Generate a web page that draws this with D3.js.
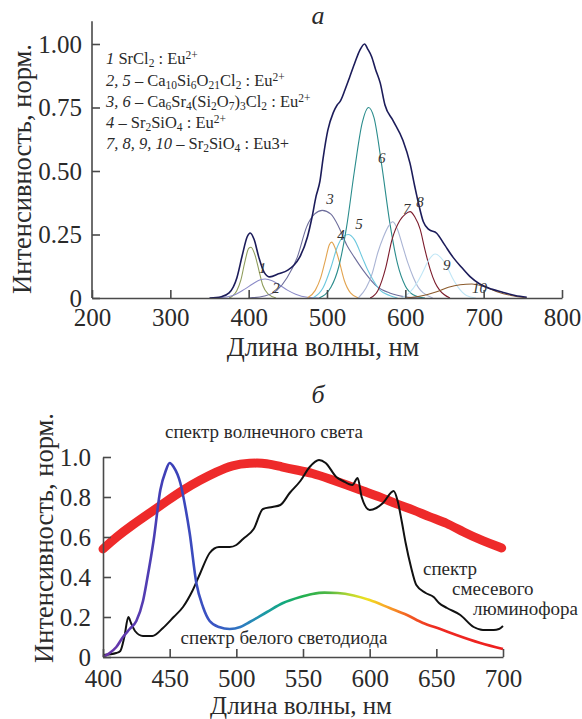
<!DOCTYPE html>
<html>
<head>
<meta charset="utf-8">
<script src="https://cdn.jsdelivr.net/npm/d3@7"></script>
<style>
  body { margin: 0; background: #fff; }
  svg { display: block; font-family: 'Liberation Serif', 'DejaVu Serif', serif; }
</style>
</head>
<body>
<div id="chart"></div>
<script>
// ---------- panel a : decomposition, [wavelength nm, intensity] ----------
const envelopeA = [[350,0],[365,0.005],[375,0.02],[385,0.08],[392,0.17],[398,0.24],[402,0.256],[407,0.23],[413,0.16],[420,0.1],[427,0.083],[438,0.095],[450,0.11],[458,0.13],[465,0.16],[475,0.24],[481,0.32],[486,0.4],[491,0.46],[495,0.55],[501,0.66],[508,0.73],[513,0.76],[517,0.775],[523,0.82],[529,0.87],[536,0.93],[542,0.976],[548,1.0],[552,0.98],[557,0.95],[562,0.9],[568,0.846],[574,0.76],[584,0.7],[597,0.62],[606,0.53],[612,0.44],[617,0.37],[623,0.3],[630,0.27],[640,0.255],[650,0.21],[661,0.16],[672,0.12],[683,0.083],[695,0.055],[710,0.035],[725,0.022],[740,0.01],[755,0.003]]
const comp1 = [[375,0],[385,0.03],[390,0.07],[395,0.14],[400,0.195],[403,0.2],[408,0.17],[413,0.11],[418,0.05],[425,0.015],[435,0]]
const comp2 = [[360,0],[380,0.01],[395,0.035],[405,0.055],[415,0.072],[421,0.075],[430,0.068],[440,0.05],[450,0.03],[460,0.015],[475,0.003],[490,0]]
const comp3 = [[400,0],[420,0.008],[436,0.03],[449,0.08],[462,0.16],[474,0.28],[484,0.33],[494,0.345],[505,0.33],[515,0.28],[525,0.21],[535,0.16],[546,0.11],[564,0.045],[580,0.02],[600,0.005],[620,0]]
const comp4 = [[475,0],[485,0.03],[492,0.08],[498,0.15],[503,0.21],[506,0.22],[510,0.2],[516,0.14],[522,0.07],[530,0.02],[540,0]]
const comp5 = [[482,0],[495,0.04],[505,0.12],[513,0.2],[520,0.24],[527,0.25],[535,0.23],[545,0.16],[552,0.11],[559,0.07],[568,0.03],[580,0.01],[590,0]]
const comp6 = [[490,0],[505,0.042],[515,0.123],[525,0.28],[535,0.5],[545,0.69],[553,0.75],[560,0.71],[570,0.52],[580,0.3],[590,0.135],[600,0.047],[610,0.013],[625,0]]
const comp7 = [[540,0],[550,0.04],[557,0.09],[565,0.18],[572,0.24],[578,0.28],[584,0.3],[590,0.27],[597,0.2],[603,0.14],[610,0.083],[617,0.04],[623,0.02],[635,0]]
const comp8 = [[555,0],[565,0.03],[575,0.12],[583,0.23],[593,0.305],[600,0.33],[606,0.34],[612,0.32],[619,0.27],[625,0.19],[632,0.11],[638,0.06],[644,0.03],[657,0]]
const comp9 = [[595,0],[605,0.02],[615,0.06],[622,0.1],[630,0.15],[638,0.173],[645,0.16],[652,0.13],[660,0.08],[668,0.04],[678,0.01],[690,0]]
const comp10 = [[600,0],[620,0.008],[640,0.025],[655,0.042],[670,0.052],[685,0.055],[700,0.045],[717,0.025],[735,0.01],[755,0]]

const componentsA = [comp1, comp2, comp3, comp4, comp5, comp6, comp7, comp8, comp9, comp10]
const componentColors = ['#8f9d5c', '#8c8cc8', '#6e6e9c', '#e2a450', '#6cc8de', '#2a8c8c', '#aab4d4', '#7c1c2c', '#c0e6f6', '#8b5a2b']
// curve numbers and the point they sit next to [nm, value]
const curveLabels = ['1', '2', '3', '4', '5', '6', '7', '8', '9', '10']
const curveLabelAt = [[413,0.1],[430,0.02],[499,0.37],[513,0.23],[536,0.27],[565,0.53],[597,0.33],[614,0.36],[648,0.11],[685,0.02]]

const ticksXA = [200, 300, 400, 500, 600, 700, 800]
const ticksYA = [0, 0.25, 0.5, 0.75, 1]
const tickLabelsYA = ['0', '0.25', '0.50', '0.75', '1.00']

// legend lines: [text, style]  i = italic, sub, sup
const legendA = [
  [['1', 'i'], [' SrCl', ''], ['2', 'sub'], [' : Eu', ''], ['2+', 'sup']],
  [['2, 5', 'i'], [' – Ca', ''], ['10', 'sub'], ['Si', ''], ['6', 'sub'], ['O', ''], ['21', 'sub'], ['Cl', ''], ['2', 'sub'], [' : Eu', ''], ['2+', 'sup']],
  [['3, 6', 'i'], [' – Ca', ''], ['6', 'sub'], ['Sr', ''], ['4', 'sub'], ['(Si', ''], ['2', 'sub'], ['O', ''], ['7', 'sub'], [')', ''], ['3', 'sub'], ['Cl', ''], ['2', 'sub'], [' : Eu', ''], ['2+', 'sup']],
  [['4', 'i'], [' – Sr', ''], ['2', 'sub'], ['SiO', ''], ['4', 'sub'], [' : Eu', ''], ['2+', 'sup']],
  [['7, 8, 9, 10', 'i'], [' – Sr', ''], ['2', 'sub'], ['SiO', ''], ['4', 'sub'], [' : Eu3+', '']],
]

// ---------- panel б : spectra ----------
const sunSpectrum = [[400,0.54],[410,0.6],[422,0.66],[435,0.72],[448,0.78],[460,0.835],[473,0.885],[485,0.925],[497,0.96],[510,0.97],[523,0.97],[534,0.95],[545,0.935],[557,0.92],[570,0.89],[583,0.86],[595,0.83],[608,0.8],[620,0.765],[633,0.735],[645,0.7],[658,0.67],[670,0.625],[685,0.58],[699,0.545]]
const ledSpectrum = [[400,0],[405,0.02],[410,0.05],[415,0.1],[420,0.14],[425,0.18],[430,0.28],[433,0.385],[438,0.585],[443,0.835],[447,0.93],[450,0.97],[453,0.95],[458,0.87],[462,0.74],[465,0.62],[470,0.37],[475,0.25],[480,0.18],[487,0.15],[495,0.14],[503,0.15],[510,0.175],[523,0.225],[535,0.27],[548,0.3],[557,0.315],[566,0.322],[576,0.32],[588,0.308],[600,0.285],[615,0.245],[628,0.21],[640,0.17],[653,0.14],[665,0.11],[683,0.07],[700,0.04]]
const phosphorSpectrum = [[400,0.01],[410,0.02],[413,0.03],[416,0.1],[419,0.2],[421,0.17],[424,0.13],[430,0.105],[437,0.105],[445,0.145],[453,0.2],[460,0.25],[467,0.33],[473,0.42],[480,0.52],[487,0.55],[495,0.55],[500,0.56],[505,0.59],[513,0.64],[520,0.74],[527,0.75],[533,0.76],[540,0.82],[548,0.88],[555,0.95],[562,0.985],[567,0.97],[575,0.9],[580,0.88],[587,0.86],[591,0.895],[594,0.8],[600,0.735],[605,0.745],[610,0.77],[618,0.83],[621,0.78],[624,0.68],[627,0.57],[631,0.45],[635,0.36],[642,0.32],[648,0.3],[652,0.27],[658,0.245],[668,0.21],[678,0.15],[685,0.135],[693,0.135],[697,0.14],[700,0.155]]
// colour of the white LED line along the wavelength
const ledStopNm = [400, 425, 450, 485, 505, 520, 535, 550, 570, 585, 598, 612, 630, 650, 700]
const ledStopColor = ['#6a34a8', '#5a3cb0', '#3c40b8', '#3a56c4', '#2c7cc0', '#1e98a8', '#12a880', '#22b050', '#52b844', '#b8d830', '#f0e020', '#f8a828', '#f25a22', '#ee2a22', '#ee1e1e']

const ticksXB = [400, 450, 500, 550, 600, 650, 700]
const ticksYB = [0, 0.2, 0.4, 0.6, 0.8, 1]
const tickLabelsYB = ['0', '0.2', '0.4', '0.6', '0.8', '1.0']

const draw = () => {
  const dimensions = {
    width: 582,
    height: 719,
  }

  const svg = d3
    .select('#chart')
    .append('svg')
    .attr('width', dimensions.width)
    .attr('height', dimensions.height)

  svg.append('rect').attr('width', dimensions.width).attr('height', dimensions.height).attr('fill', '#fff')

  const axisColor = '#4a4a4a'
  const textColor = '#2a2a2a'

  // ================= panel a =================
  const xA = d3.scaleLinear().domain([200, 800]).range([92, 562])
  const yA = d3.scaleLinear().domain([0, 1]).range([298, 44])

  const ctrA = svg.append('g')

  const lineA = d3
    .line()
    .x((d) => xA(d[0]))
    .y((d) => yA(d[1]))
    .curve(d3.curveMonotoneX)

  ctrA
    .selectAll('path.comp')
    .data(componentsA)
    .join('path')
    .attr('class', 'comp')
    .attr('d', lineA)
    .attr('fill', 'none')
    .attr('stroke', (d, i) => componentColors[i])
    .attr('stroke-width', 1.1)

  ctrA
    .append('path')
    .datum(envelopeA)
    .attr('d', lineA)
    .attr('fill', 'none')
    .attr('stroke', '#1c1c5a')
    .attr('stroke-width', 1.6)

  // curve numbers
  ctrA
    .selectAll('text.num')
    .data(curveLabels)
    .join('text')
    .attr('class', 'num')
    .attr('x', (d, i) => xA(curveLabelAt[i][0]))
    .attr('y', (d, i) => yA(curveLabelAt[i][1]))
    .attr('font-size', 15)
    .attr('font-style', 'italic')
    .attr('fill', '#333')
    .text((d) => d)

  // axes, ticks pointing inside
  const xAxisA = d3.axisBottom(xA).tickValues(ticksXA).tickSizeInner(-8).tickSizeOuter(0).tickPadding(10).tickFormat(d3.format('d'))
  ctrA.append('g').attr('transform', `translate(0, ${yA(0)})`).call(xAxisA)

  const yAxisA = d3.axisLeft(yA).tickValues(ticksYA).tickSizeInner(-8).tickSizeOuter(0).tickPadding(10).tickFormat((d, i) => tickLabelsYA[i])
  const yAxisGroupA = ctrA.append('g').attr('transform', `translate(${xA(200)}, 0)`).call(yAxisA)

  // the y axis line goes a bit above 1.00
  yAxisGroupA.select('.domain').remove()
  ctrA
    .append('line')
    .attr('x1', xA(200))
    .attr('x2', xA(200))
    .attr('y1', yA(0))
    .attr('y2', yA(1.09))
    .attr('stroke', axisColor)
    .attr('stroke-width', 1.6)

  // ================= panel б =================
  const xB = d3.scaleLinear().domain([400, 700]).range([103, 503])
  const yB = d3.scaleLinear().domain([0, 1]).range([657, 457])

  const ctrB = svg.append('g')

  const lineB = d3
    .line()
    .x((d) => xB(d[0]))
    .y((d) => yB(d[1]))
    .curve(d3.curveMonotoneX)

  // gradient for the white LED spectrum
  const grad = svg
    .append('defs')
    .append('linearGradient')
    .attr('id', 'ledGrad')
    .attr('gradientUnits', 'userSpaceOnUse')
    .attr('x1', xB(400))
    .attr('x2', xB(700))
    .attr('y1', 0)
    .attr('y2', 0)

  grad
    .selectAll('stop')
    .data(ledStopNm)
    .join('stop')
    .attr('offset', (d) => (d - 400) / 300)
    .attr('stop-color', (d, i) => ledStopColor[i])

  ctrB
    .append('path')
    .datum(sunSpectrum)
    .attr('d', lineB.curve(d3.curveBasis))
    .attr('fill', 'none')
    .attr('stroke', '#ee2a2a')
    .attr('stroke-width', 9)
    .attr('stroke-linecap', 'round')

  lineB.curve(d3.curveMonotoneX)

  ctrB
    .append('path')
    .datum(phosphorSpectrum)
    .attr('d', lineB)
    .attr('fill', 'none')
    .attr('stroke', '#111')
    .attr('stroke-width', 2)

  ctrB
    .append('path')
    .datum(ledSpectrum)
    .attr('d', lineB)
    .attr('fill', 'none')
    .attr('stroke', 'url(#ledGrad)')
    .attr('stroke-width', 2.6)

  const xAxisB = d3.axisBottom(xB).tickValues(ticksXB).tickSizeInner(-8).tickSizeOuter(0).tickPadding(12).tickFormat(d3.format('d'))
  ctrB.append('g').attr('transform', `translate(0, ${yB(0)})`).call(xAxisB)

  const yAxisB = d3.axisLeft(yB).tickValues(ticksYB).tickSizeInner(-8).tickSizeOuter(0).tickPadding(12).tickFormat((d, i) => tickLabelsYB[i])
  ctrB.append('g').attr('transform', `translate(${xB(400)}, 0)`).call(yAxisB)

  // common axis styling
  svg.selectAll('.domain, .tick line').attr('stroke', axisColor).attr('stroke-width', 1.6)
  svg
    .selectAll('.tick text')
    .attr('fill', textColor)
    .attr('font-size', 25)
    .attr('font-family', 'Liberation Serif')

  // ================= texts =================
  const addText = (x, y, txt, opts = {}) =>
    svg
      .append('text')
      .attr('x', x)
      .attr('y', y)
      .attr('fill', textColor)
      .attr('font-size', opts.size || 25)
      .attr('font-style', opts.italic ? 'italic' : 'normal')
      .attr('text-anchor', opts.anchor || 'start')
      .attr('transform', opts.rotate ? `rotate(-90, ${x}, ${y})` : null)
      .text(txt)

  addText(318, 24, 'а', { italic: true, anchor: 'middle', size: 26 })
  addText(318, 403, 'б', { italic: true, anchor: 'middle', size: 26 })

  addText(31, 169, 'Интенсивность, норм.', { anchor: 'middle', rotate: true, size: 26.5 })
  addText(53, 538, 'Интенсивность, норм.', { anchor: 'middle', rotate: true, size: 26.5 })
  addText(323, 356, 'Длина волны, нм', { anchor: 'middle', size: 26.5 })
  addText(301, 714, 'Длина волны, нм', { anchor: 'middle', size: 25 })

  // annotations of panel б
  addText(264, 438, 'спектр волнечного света', { anchor: 'middle', size: 19 })
  addText(284, 644, 'спектр белого светодиода', { anchor: 'middle', size: 19 })
  addText(423, 575, 'спектр', { size: 19 })
  addText(452, 595, 'смесевого', { size: 19 })
  addText(473, 615, 'люминофора', { size: 19 })

  // legend of panel a with sub / superscripts
  const legendY = [64, 86, 107, 128, 149]
  legendA.forEach((parts, li) => {
    const t = svg
      .append('text')
      .attr('x', 106)
      .attr('y', legendY[li])
      .attr('fill', textColor)
      .attr('font-size', 16.5)
    let shift = 0
    parts.forEach(([str, style]) => {
      const target = style === 'sub' ? 3 : style === 'sup' ? -5 : 0
      t.append('tspan')
        .attr('dy', target - shift)
        .attr('font-size', style === 'sub' || style === 'sup' ? 11.5 : 16.5)
        .attr('font-style', style === 'i' ? 'italic' : 'normal')
        .text(str)
      shift = target
    })
  })
}

draw()
</script>
</body>
</html>
